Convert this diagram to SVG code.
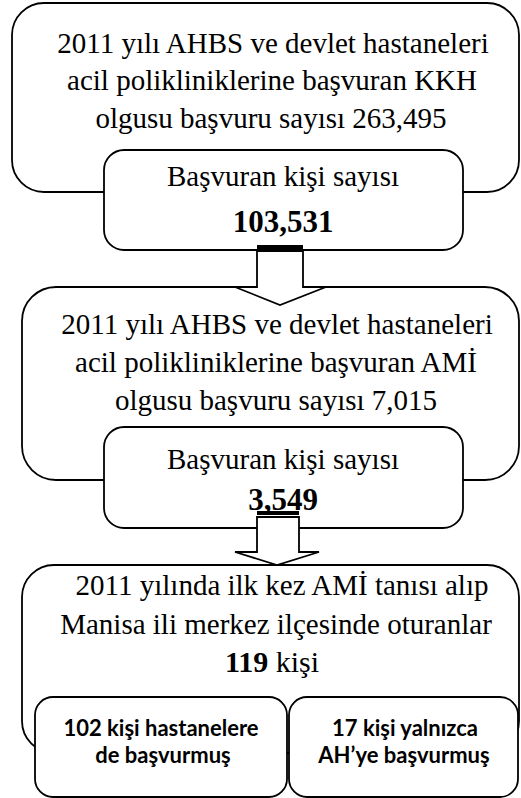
<svg xmlns="http://www.w3.org/2000/svg" width="521" height="798" viewBox="0 0 521 798">
<defs>
<style>
.box{fill:#fff;stroke:#000;stroke-width:1.8}
.arr{fill:#fff;stroke:#000;stroke-width:1.8;stroke-linejoin:miter}
</style>
</defs>
<rect width="521" height="798" fill="#fff"/>
<g id="node1">
<rect class="box" x="12" y="3" width="507" height="189" rx="32"/>
<text font-family="Liberation Serif" font-size="29" text-anchor="middle" x="273" y="53">2011 yılı AHBS ve devlet hastaneleri</text>
<text font-family="Liberation Serif" font-size="29" text-anchor="middle" x="272" y="90">acil polikliniklerine başvuran KKH</text>
<text font-family="Liberation Serif" font-size="29" text-anchor="middle" x="271" y="128">olgusu başvuru sayısı 263,495</text>
</g>
<g id="node1b">
<rect class="box" x="104" y="150" width="359" height="100" rx="20"/>
<text font-family="Liberation Serif" font-size="29" text-anchor="middle" x="283" y="186">Başvuran kişi sayısı</text>
<text font-family="Liberation Serif" font-size="31" text-anchor="middle" x="283" y="232" font-weight="bold">103,531</text>
</g>
<g id="node2">
<rect class="box" x="22" y="287" width="497" height="193" rx="34"/>
<text font-family="Liberation Serif" font-size="29" text-anchor="middle" x="277" y="334">2011 yılı AHBS ve devlet hastaneleri</text>
<text font-family="Liberation Serif" font-size="29" text-anchor="middle" x="276" y="372">acil polikliniklerine başvuran AMİ</text>
<text font-family="Liberation Serif" font-size="29" text-anchor="middle" x="276" y="410">olgusu başvuru sayısı 7,015</text>
</g>
<g id="node2b">
<rect class="box" x="104" y="427" width="359" height="101" rx="20"/>
<text font-family="Liberation Serif" font-size="29" text-anchor="middle" x="283" y="469">Başvuran kişi sayısı</text>
<text font-family="Liberation Serif" font-size="31" text-anchor="middle" x="283" y="510" font-weight="bold">3,549</text>
</g>
<g id="node3">
<rect class="box" x="22" y="565" width="497" height="188" rx="32"/>
<text font-family="Liberation Serif" font-size="29" text-anchor="middle" x="282" y="595">2011 yılında ilk kez AMİ tanısı alıp</text>
<text font-family="Liberation Serif" font-size="29" text-anchor="middle" x="276" y="634">Manisa ili merkez ilçesinde oturanlar</text>
<text font-family="Liberation Serif" font-size="30" text-anchor="middle" x="272" y="672"><tspan font-weight="bold">119</tspan> kişi</text>
</g>
<g id="node3a">
<rect class="box" x="35" y="697" width="252" height="100" rx="18"/>
<text font-family="Lato" font-size="22" font-weight="bold" text-anchor="middle" x="161" y="736">102 kişi hastanelere</text>
<text font-family="Lato" font-size="22" font-weight="bold" text-anchor="middle" x="163" y="763">de başvurmuş</text>
</g>
<g id="node3b">
<rect class="box" x="289" y="697" width="229" height="100" rx="18"/>
<text font-family="Lato" font-size="22" font-weight="bold" text-anchor="middle" x="405" y="736">17 kişi yalnızca</text>
<text font-family="Lato" font-size="22" font-weight="bold" text-anchor="middle" x="404" y="763">AH’ye başvurmuş</text>
</g>
<g id="connectors">
<polygon class="arr" points="257,251 303,251 303,287 326,287 280,305 235,287 257,287"/>
<rect x="257" y="245" width="46" height="4" fill="#000"/>
<polygon class="arr" points="257,517 299,517 299,552 319,552 277,565 235,552 257,552"/>
<rect x="257" y="511" width="42" height="4" fill="#000"/>
</g>
</svg>
